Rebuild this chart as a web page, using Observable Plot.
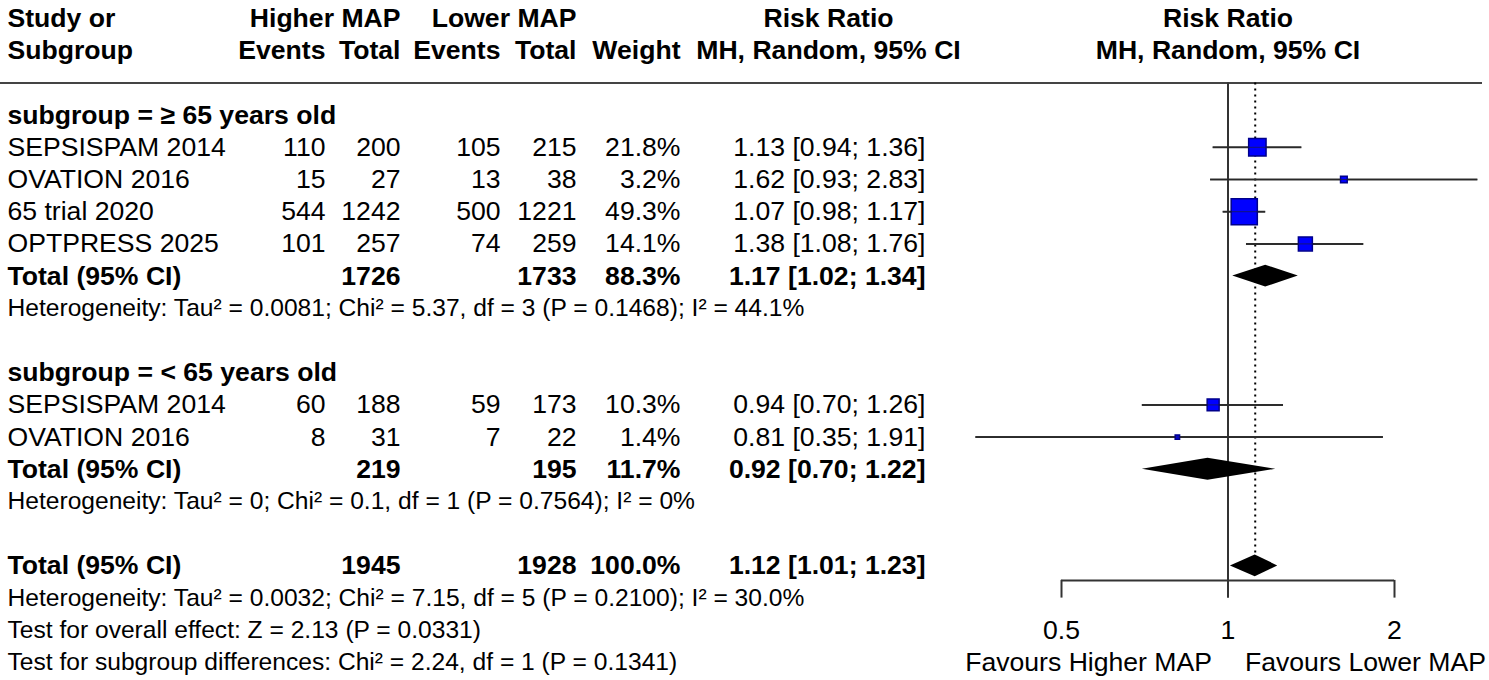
<!DOCTYPE html>
<html><head><meta charset="utf-8">
<script src="https://cdn.jsdelivr.net/npm/d3@7"></script>
<script src="https://cdn.jsdelivr.net/npm/@observablehq/plot@0.6"></script>
<style>
body{margin:0;background:#fff;}
#wrap{position:relative;width:1489px;height:680px;overflow:hidden;}
#wrap svg{position:absolute;left:0;top:0;background:transparent;}
</style></head><body><div id="wrap"></div>
<script>
// ---------- data ----------
const studies   = ["SEPSISPAM 2014","OVATION 2016","65 trial 2020","OPTPRESS 2025","SEPSISPAM 2014","OVATION 2016"];
const studyGroup = [0,0,0,0,1,1];
const evHigh    = [110,15,544,101,60,8];
const totHigh   = [200,27,1242,257,188,31];
const evLow     = [105,13,500,74,59,7];
const totLow    = [215,38,1221,259,173,22];
const weights   = [21.8,3.2,49.3,14.1,10.3,1.4];
const rr        = [1.13,1.62,1.07,1.38,0.94,0.81];
const rrLo      = [0.94,0.93,0.98,1.08,0.70,0.35];
const rrHi      = [1.36,2.83,1.17,1.76,1.26,1.91];

const groupLabels = ["subgroup = \u2265 65 years old","subgroup = < 65 years old"];
// subgroup totals, then overall
const sumTotHigh = [1726,219,1945];
const sumTotLow  = [1733,195,1928];
const sumWeight  = ["88.3%","11.7%","100.0%"];
const sumRR      = [1.17,0.92,1.12];
const sumLo      = [1.02,0.70,1.01];
const sumHi      = [1.34,1.22,1.23];
const hetText = [
  "Heterogeneity: Tau\u00b2 = 0.0081; Chi\u00b2 = 5.37, df = 3 (P = 0.1468); I\u00b2 = 44.1%",
  "Heterogeneity: Tau\u00b2 = 0; Chi\u00b2 = 0.1, df = 1 (P = 0.7564); I\u00b2 = 0%",
  "Heterogeneity: Tau\u00b2 = 0.0032; Chi\u00b2 = 7.15, df = 5 (P = 0.2100); I\u00b2 = 30.0%"
];
const testText = [
  "Test for overall effect: Z = 2.13 (P = 0.0331)",
  "Test for subgroup differences: Chi\u00b2 = 2.24, df = 1 (P = 0.1341)"
];
const headerTop = ["Study or","Higher MAP","Lower MAP","Risk Ratio"];
const headerBottom = ["Subgroup","Events","Total","Events","Total","Weight","MH, Random, 95% CI"];
const forestHeader = ["Risk Ratio","MH, Random, 95% CI"];
const forestTicks = [0.5,1,2];
const favours = ["Favours Higher MAP","Favours Lower MAP"];

// ---------- layout ----------
const W = 1489, H = 680;
const FONT = "Liberation Sans, Arial, sans-serif";
const FS = 26.6, FS_SMALL = 24.6;
const col = {study:7, evH:325, totH:400, evL:500, totL:576, weight:680, rr:925, rrHead:828};
const yScale = {domain:[0,20], range:[18,662], axis:null};

// row assignment
const studyRow = [], labelRow = [], totalRow = [], hetRow = [];
let r = 3;
groupLabels.forEach((g, gi) => {
  labelRow[gi] = r++;
  studies.forEach((s, i) => { if (studyGroup[i] === gi) studyRow[i] = r++; });
  totalRow[gi] = r++;
  hetRow[gi] = r++;
  r++;
});
totalRow[2] = r; hetRow[2] = r + 1;
const testRow = [r + 2, r + 3];

const fmt = v => v.toFixed(2);
const ciText = (e, l, h) => `${fmt(e)} [${fmt(l)}; ${fmt(h)}]`;

// ---------- table cells ----------
const cells = [];
const add = (row, x, text, anchor, bold, small) => cells.push({row, x, text, anchor, bold: !!bold, small: !!small});
// header
add(0, col.study, headerTop[0], "start", true);
add(0, col.totH, headerTop[1], "end", true);
add(0, col.totL, headerTop[2], "end", true);
add(0, col.rrHead, headerTop[3], "middle", true);
add(1, col.study, headerBottom[0], "start", true);
add(1, col.evH, headerBottom[1], "end", true);
add(1, col.totH, headerBottom[2], "end", true);
add(1, col.evL, headerBottom[3], "end", true);
add(1, col.totL, headerBottom[4], "end", true);
add(1, col.weight, headerBottom[5], "end", true);
add(1, col.rrHead, headerBottom[6], "middle", true);
groupLabels.forEach((g, gi) => add(labelRow[gi], col.study, g, "start", true));
studies.forEach((s, i) => {
  const y = studyRow[i];
  add(y, col.study, s, "start");
  add(y, col.evH, String(evHigh[i]), "end");
  add(y, col.totH, String(totHigh[i]), "end");
  add(y, col.evL, String(evLow[i]), "end");
  add(y, col.totL, String(totLow[i]), "end");
  add(y, col.weight, weights[i].toFixed(1) + "%", "end");
  add(y, col.rr, ciText(rr[i], rrLo[i], rrHi[i]), "end");
});
[0,1,2].forEach(k => {
  const y = totalRow[k];
  add(y, col.study, "Total (95% CI)", "start", true);
  add(y, col.totH, String(sumTotHigh[k]), "end", true);
  add(y, col.totL, String(sumTotLow[k]), "end", true);
  add(y, col.weight, sumWeight[k], "end", true);
  add(y, col.rr, ciText(sumRR[k], sumLo[k], sumHi[k]), "end", true);
  add(hetRow[k], col.study, hetText[k], "start", false, true);
});
testText.forEach((t, k) => add(testRow[k], col.study, t, "start", false, true));

const textMark = (anchor, bold, small) => Plot.text(
  cells.filter(c => c.anchor === anchor && c.bold === bold && c.small === small),
  {x: "x", y: "row", text: "text", textAnchor: anchor, fontFamily: FONT,
   fontSize: small ? FS_SMALL : FS, fontWeight: bold ? "bold" : "normal", fill: "#000"}
);

const table = Plot.plot({
  width: W, height: H, margin: 0,
  x: {type: "linear", domain: [0, W], range: [0, W], axis: null},
  y: yScale,
  marks: [
    Plot.ruleY([2], {x1: 0, x2: 1482, stroke: "#444", strokeWidth: 2}),
    textMark("start", false, false),
    textMark("start", true, false),
    textMark("end", false, false),
    textMark("end", true, false),
    textMark("middle", true, false),
    textMark("start", false, true)
  ]
});

// ---------- forest ----------
const studyData = studies.map((s, i) => ({row: studyRow[i], rr: rr[i], lo: rrLo[i], hi: rrHi[i], w: weights[i]}));
const DH = 0.34; // diamond half-height in rows
const diamonds = [];
[0,1,2].forEach(k => {
  const y = totalRow[k];
  diamonds.push({id: k, x: sumLo[k], y1: y, y2: y});
  diamonds.push({id: k, x: sumRR[k], y1: y - DH, y2: y + DH});
  diamonds.push({id: k, x: sumHi[k], y1: y, y2: y});
});
const axisRow = totalRow[2] + 0.45;

const forest = Plot.plot({
  width: W, height: H, margin: 0,
  x: {type: "log", domain: [0.5, 2], range: [1061, 1394], axis: null},
  y: yScale,
  r: {type: "sqrt", domain: [0, 100], range: [0, 21]},
  marks: [
    Plot.ruleX([1], {y1: 2, y2: axisRow + 0.55, stroke: "#333", strokeWidth: 2}),
    Plot.ruleX([sumRR[2]], {y1: 2, y2: totalRow[2] - DH, stroke: "#000", strokeWidth: 2, strokeDasharray: "2,4"}),
    Plot.ruleY(studyData, {y: "row", x1: "lo", x2: "hi", stroke: "#333", strokeWidth: 2}),
    Plot.dot(studyData, {x: "rr", y: "row", r: "w", symbol: "square", fill: "#0000ff", stroke: "#00008b", strokeWidth: 1.5}),
    Plot.ruleY(studyData, {y: "row", x1: "lo", x2: "hi", stroke: "#222", strokeWidth: 1, strokeOpacity: 0.6}),
    Plot.areaY(diamonds, {x: "x", y1: "y1", y2: "y2", z: "id", fill: "#000", curve: "linear"}),
    Plot.ruleY([axisRow], {x1: forestTicks[0], x2: forestTicks[forestTicks.length - 1], stroke: "#333", strokeWidth: 2}),
    Plot.ruleX(forestTicks, {y1: axisRow, y2: axisRow + 0.55, stroke: "#333", strokeWidth: 2}),
    Plot.text(forestTicks, {x: d => d, y: testRow[0], text: d => String(d), fontFamily: FONT, fontSize: FS, fill: "#000"}),
    Plot.text([favours[0]], {x: 1, y: testRow[1], text: d => d, textAnchor: "end", dx: -16, fontFamily: FONT, fontSize: FS, fill: "#000"}),
    Plot.text([favours[1]], {x: 1, y: testRow[1], text: d => d, textAnchor: "start", dx: 17, fontFamily: FONT, fontSize: FS, fill: "#000"}),
    Plot.text(forestHeader, {x: 1, y: (d, i) => i, text: d => d, fontFamily: FONT, fontSize: FS, fontWeight: "bold", fill: "#000"})
  ]
});

const wrap = document.getElementById("wrap");
wrap.appendChild(table);
wrap.appendChild(forest);
</script>
</body></html>
